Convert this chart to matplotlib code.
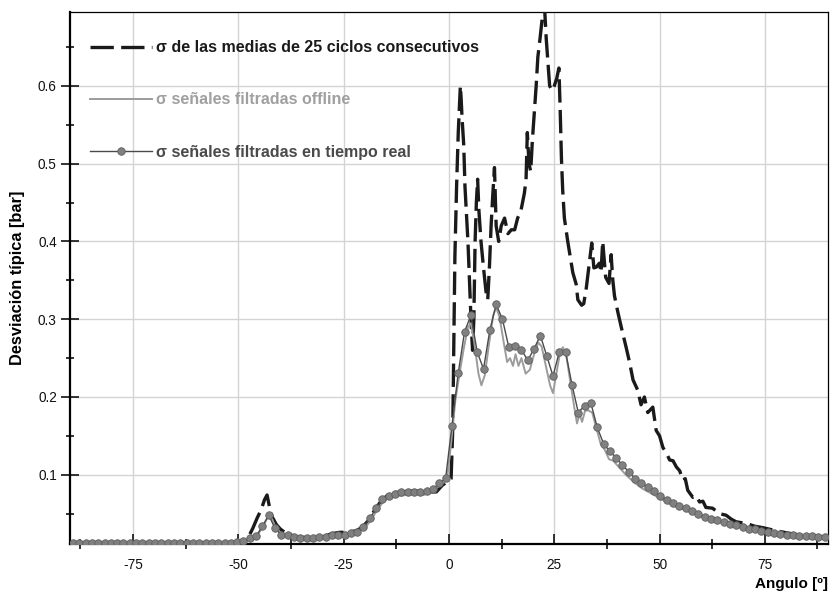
"""
Desviación típica de la presión frente al ángulo de cigüeñal.
"""

import numpy as np
import matplotlib
matplotlib.use("Agg")
import matplotlib.pyplot as plt
from matplotlib.ticker import MultipleLocator, FixedLocator

plt.rcParams["font.family"] = ["Liberation Sans", "DejaVu Sans"]

# ---------------------------------------------------------------------------
# Data
# ---------------------------------------------------------------------------

# σ de las medias de 25 ciclos consecutivos
ang_medias = [
    -90, -70, -55, -50, -48, -46.6, -45.5, -44.6, -43.8, -43.2, -42.6, -42.0,
    -41.0, -40.0, -38.5, -36, -33, -30, -28, -26, -24, -22, -20.5, -19, -17.5,
    -16, -14.5, -13, -11, -9, -7, -5, -3, -1.5, -0.3, 0.5, 0.9, 1.1, 1.4, 1.8,
    2.2, 2.7, 2.9, 3.1, 3.5, 3.8, 4.2, 4.5, 4.9, 5.3, 5.6, 5.9, 6.2, 6.5, 6.8,
    7.1, 7.6, 8.2, 8.8, 9.2, 9.6, 10.0, 10.4, 10.8, 11.2, 11.8, 12.4, 13.2,
    14.0, 14.8, 15.6, 16.3, 17.1, 17.9, 18.3, 18.6, 19.0, 19.4, 19.8, 20.7,
    21.1, 21.6, 22.2, 22.7, 23.1, 23.5, 23.9, 24.5, 25.0, 25.6, 26.1, 26.4,
    26.7, 27.0, 27.4, 28.2, 29.4, 30.2, 30.6, 31.5, 32.0, 32.6, 33.4, 33.9,
    34.4, 35.0, 35.7, 36.1, 36.5, 37.2, 38.0, 38.5, 38.9, 39.3, 40.1, 40.9,
    42.1, 42.9, 43.7, 44.8, 45.6, 46.4, 47.2, 48.4, 49.2, 50.0, 50.8, 51.6,
    52.4, 53.2, 54.0, 54.8, 55.5, 56.1, 56.7, 57.9, 58.7, 59.5, 60.3, 61.0,
    62.6, 64.2, 65.8, 67.0, 68.2, 70.6, 72.5, 74.5, 77.7, 80.5, 83.3, 86.5, 90,
]
sigma_medias = [
    0.012, 0.012, 0.0125, 0.013, 0.016, 0.031, 0.045, 0.055, 0.068, 0.074,
    0.058, 0.046, 0.036, 0.030, 0.024, 0.020, 0.019, 0.020, 0.024, 0.026,
    0.026, 0.028, 0.033, 0.042, 0.056, 0.067, 0.074, 0.077, 0.078, 0.079,
    0.079, 0.078, 0.078, 0.087, 0.091, 0.095, 0.16, 0.25, 0.38, 0.47, 0.54,
    0.60, 0.582, 0.559, 0.524, 0.47, 0.43, 0.40, 0.345, 0.29, 0.26, 0.30,
    0.40, 0.45, 0.48, 0.44, 0.40, 0.366, 0.335, 0.325, 0.367, 0.42, 0.46,
    0.495, 0.42, 0.40, 0.42, 0.43, 0.41, 0.415, 0.415, 0.43, 0.44, 0.462,
    0.48, 0.54, 0.50, 0.49, 0.53, 0.60, 0.637, 0.66, 0.69, 0.70, 0.66, 0.63,
    0.60, 0.594, 0.60, 0.61, 0.623, 0.57, 0.507, 0.466, 0.43, 0.40, 0.36,
    0.345, 0.325, 0.318, 0.32, 0.34, 0.376, 0.398, 0.366, 0.367, 0.372, 0.36,
    0.40, 0.354, 0.346, 0.383, 0.35, 0.33, 0.309, 0.29, 0.263, 0.244, 0.222,
    0.209, 0.19, 0.20, 0.18, 0.187, 0.157, 0.15, 0.135, 0.128, 0.119, 0.118,
    0.110, 0.105, 0.093, 0.095, 0.080, 0.071, 0.073, 0.065, 0.066, 0.058,
    0.057, 0.050, 0.048, 0.043, 0.0395, 0.0374, 0.034, 0.032, 0.028, 0.025,
    0.0224, 0.021, 0.0195,
]

# σ señales filtradas offline
ang_offline = [
    -90, -60, -52, -49, -47, -45.5, -44, -43, -42, -41, -39.5, -37, -34, -30,
    -27, -24, -22, -20, -18.5, -17, -15.5, -14, -12, -10, -8, -6, -4.5, -3,
    -1.5, -0.5, 0.5, 1.5, 2.5, 3.5, 4.5, 5.2, 6, 7, 7.7, 8.5, 9.5, 10.5, 11.2,
    12, 13, 13.8, 14.5, 15.2, 15.8, 16.5, 17.2, 18.2, 19.2, 20.2, 21.2, 22,
    23, 24, 24.7, 25.5, 26.3, 27, 27.8, 28.8, 29.8, 30.4, 31, 31.6, 32.3, 33,
    34, 35, 36, 37, 38, 39, 40, 42, 44, 46, 48, 50, 53, 56, 60, 65, 70, 75,
    80, 85, 90,
]
sigma_offline = [
    0.012, 0.012, 0.013, 0.0145, 0.018, 0.022, 0.035, 0.046, 0.043, 0.030,
    0.023, 0.020, 0.018, 0.019, 0.022, 0.023, 0.026, 0.031, 0.042, 0.055,
    0.066, 0.071, 0.073, 0.074, 0.075, 0.074, 0.077, 0.083, 0.089, 0.093,
    0.14, 0.195, 0.23, 0.262, 0.29, 0.295, 0.27, 0.23, 0.215, 0.228, 0.268,
    0.305, 0.315, 0.303, 0.27, 0.245, 0.25, 0.24, 0.255, 0.24, 0.25, 0.23,
    0.235, 0.255, 0.27, 0.265, 0.24, 0.215, 0.205, 0.23, 0.255, 0.264, 0.255,
    0.22, 0.185, 0.166, 0.178, 0.168, 0.182, 0.183, 0.18, 0.16, 0.14, 0.132,
    0.12, 0.118, 0.112, 0.1, 0.09, 0.082, 0.076, 0.07, 0.061, 0.055, 0.046,
    0.038, 0.032, 0.027, 0.023, 0.021, 0.0195,
]

# σ señales filtradas en tiempo real (un punto cada 1.5º)
ang_real = np.round(np.arange(-89.3, 89.5, 1.5), 1)
sigma_real = [
    0.012, 0.012, 0.012, 0.012, 0.012, 0.012, 0.012, 0.012, 0.012, 0.012,
    0.012, 0.012, 0.012, 0.0122, 0.0122, 0.0122, 0.012, 0.0122, 0.0122,
    0.0122, 0.0122, 0.0122, 0.0125, 0.0125, 0.0125, 0.0128, 0.013,
    0.0147, 0.0185, 0.021, 0.034, 0.048, 0.031, 0.023, 0.0224, 0.020,
    0.0185, 0.0185, 0.019, 0.0195, 0.020, 0.023, 0.023, 0.022, 0.0246,
    0.026, 0.0327, 0.044, 0.0568, 0.0683, 0.073, 0.0755, 0.0773, 0.0775,
    0.0775, 0.0775, 0.079, 0.082, 0.089, 0.0953,
    0.163, 0.231, 0.284, 0.305, 0.258, 0.236, 0.286, 0.319, 0.300, 0.264,
    0.265, 0.261, 0.247, 0.262, 0.279, 0.253, 0.227, 0.258, 0.2575, 0.216,
    0.180, 0.189, 0.192, 0.161, 0.140, 0.130, 0.122, 0.112, 0.104, 0.095,
    0.089, 0.084, 0.079, 0.073, 0.068, 0.0636, 0.060, 0.0567, 0.0533,
    0.0494, 0.046, 0.0434, 0.0413, 0.039, 0.0366, 0.0349, 0.0331, 0.0305,
    0.0297, 0.028, 0.0263, 0.025, 0.024, 0.0228, 0.022, 0.0215, 0.0215,
    0.0207, 0.0202, 0.0198,
]

x_major = [-75, -50, -25, 0, 25, 50, 75]
x_minor = [-87.5, -62.5, -37.5, -12.5, 12.5, 37.5, 62.5, 87.5]
x_ticklabels = ["-75", "-50", "-25", "0", "25", "50", "75"]

# ---------------------------------------------------------------------------
# Plot
# ---------------------------------------------------------------------------
C_MEDIAS  = "#1a1a1a"
C_OFFLINE = "#9c9c9c"
C_REAL    = "#4a4a4a"

fig = plt.figure(figsize=(8.3, 5.92), dpi=100)
ax = fig.add_axes([0.0843, 0.0811, 0.9133, 0.8986])

ax.plot(ang_medias, sigma_medias, color=C_MEDIAS, lw=2.4,
        dashes=(7.0, 2.2), label="σ de las medias de 25 ciclos consecutivos",
        zorder=3)
ax.plot(ang_offline, sigma_offline, color=C_OFFLINE, lw=1.4,
        label="σ señales filtradas offline", zorder=4)
ax.plot(ang_real, sigma_real, color=C_REAL, lw=1.0, marker="o", ms=5.4,
        mfc="#808080", mec="#5e5e5e", mew=0.6,
        label="σ señales filtradas en tiempo real", zorder=5)

ax.set_xlim(-90, 90)
ax.set_ylim(0.011, 0.695)

ax.xaxis.set_major_locator(FixedLocator(x_major))
ax.xaxis.set_minor_locator(FixedLocator(x_minor))
ax.set_xticklabels(x_ticklabels)
ax.yaxis.set_major_locator(FixedLocator([0.1, 0.2, 0.3, 0.4, 0.5, 0.6]))
ax.yaxis.set_minor_locator(MultipleLocator(0.05))

ax.grid(True, which="major", color="#d4d4d4", lw=1.0, zorder=0)
ax.set_axisbelow(True)

ax.tick_params(axis="x", which="major", direction="in", length=7, width=1.2,
               pad=10, labelsize=9.8, colors="#111111")
ax.tick_params(axis="x", which="minor", direction="inout", length=7,
               width=1.2, color="#111111")
ax.tick_params(axis="y", which="major", direction="inout", length=13,
               width=1.2, pad=3, labelsize=9.8, colors="#111111")
ax.tick_params(axis="y", which="minor", direction="inout", length=6,
               width=1.2, color="#111111")

for side in ("left", "bottom"):
    ax.spines[side].set_linewidth(1.6)
for side in ("top", "right"):
    ax.spines[side].set_linewidth(0.9)

ax.set_xlabel("Angulo [º]", fontsize=11, fontweight="bold", loc="right",
              labelpad=4)
ax.set_ylabel("Desviación típica [bar]", fontsize=11.8, fontweight="bold",
              labelpad=9)

leg = ax.legend(loc="upper left", bbox_to_anchor=(0.026, 0.947),
                frameon=False, borderpad=0, borderaxespad=0,
                handlelength=3.9, handletextpad=0.25, labelspacing=2.33,
                numpoints=1,
                labelcolor=[C_MEDIAS, "#a0a0a0", "#4a4a4a"],
                prop={"weight": "bold", "size": 11.5})

fig.savefig("out.png", dpi=100)
